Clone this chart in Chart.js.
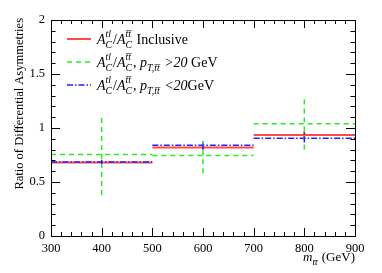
<!DOCTYPE html>
<html>
<head>
<meta charset="utf-8">
<script src="https://cdn.jsdelivr.net/npm/chart.js@4/dist/chart.umd.min.js"></script>
<style>
  html, body { margin: 0; padding: 0; background: #fff; }
  #wrap { width: 382px; height: 273px; }
</style>
</head>
<body>
<div id="wrap"><canvas id="asymChart" width="382" height="273"></canvas></div>
<script>
// bins in m_tt (GeV)
const binEdges = [300, 500, 700, 900];
const binCenters = [400, 600, 800];

// ratio values per bin
const inclusive = [0.68, 0.82, 0.935];
const inclusiveLo = [0.67, 0.80, 0.90];
const inclusiveHi = [0.69, 0.84, 0.97];

const highPt = [0.755, 0.745, 1.04];
const highPtLo = [0.38, 0.58, 0.80];
const highPtHi = [1.11, 0.88, 1.27];

const lowPt = [0.685, 0.84, 0.905];
const lowPtLo = [0.665, 0.80, 0.865];
const lowPtHi = [0.705, 0.88, 0.955];

const xTicks = [300, 400, 500, 600, 700, 800, 900];
const yTicks = [0, 0.5, 1, 1.5, 2];

const SERIF = '"Liberation Serif", "DejaVu Serif", serif';

// turn bin values into horizontal segments
function steps(vals) {
  const pts = [];
  vals.forEach((v, i) => {
    pts.push({ x: binEdges[i], y: v });
    pts.push({ x: binEdges[i + 1], y: v });
    pts.push({ x: binEdges[i + 1], y: null });
  });
  return pts;
}

const series = [
  { label: "inclusive", vals: inclusive, lo: inclusiveLo, hi: inclusiveHi, color: "#ff4848", width: 2, dash: [] },
  { label: "high", vals: highPt, lo: highPtLo, hi: highPtHi, color: "#22ee22", width: 1.5, dash: [5, 4] },
  { label: "low", vals: lowPt, lo: lowPtLo, hi: lowPtHi, color: "#2222ff", width: 1.5, dash: [6, 2, 1.5, 2] }
];

// draw a run of text pieces: {t, it, sub, sup}
function drawRich(ctx, x, y, pieces, size, measureOnly) {
  const x0 = x;
  pieces.forEach(p => {
    const fs = p.sub || p.sup ? size * 0.7 : size;
    ctx.font = (p.it ? "italic " : "") + fs + "px " + SERIF;
    if (p.t !== undefined) {
      if (!measureOnly) ctx.fillText(p.t, x, y);
      x += ctx.measureText(p.t).width;
    } else {
      let w = 0;
      if (p.sup) {
        if (!measureOnly) ctx.fillText(p.sup, x, y - size * 0.48);
        w = Math.max(w, ctx.measureText(p.sup).width);
      }
      if (p.sub) {
        if (!measureOnly) ctx.fillText(p.sub, x, y + size * 0.32);
        w = Math.max(w, ctx.measureText(p.sub).width);
      }
      x += w + 1;
    }
  });
  return x - x0;
}

const ratioPieces = [
  { t: "A", it: true }, { sub: "C", sup: "tl", it: true },
  { t: "/", it: false },
  { t: "A", it: true }, { sub: "C", sup: "t\u0304t\u0304", it: true }
];

const legendRows = [
  ratioPieces.concat([{ t: " Inclusive" }]),
  ratioPieces.concat([{ t: ", " }, { t: "p", it: true }, { sub: "T,t\u0304t\u0304", it: true }, { t: " >20", it: true }, { t: " GeV" }]),
  ratioPieces.concat([{ t: ", " }, { t: "p", it: true }, { sub: "T,t\u0304t\u0304", it: true }, { t: " <20", it: true }, { t: "GeV" }])
];

const decorPlugin = {
  id: "decor",
  afterDatasetsDraw(chart) {
    const ctx = chart.ctx;
    const xs = chart.scales.x, ys = chart.scales.y;
    const a = chart.chartArea;
    ctx.save();

    // error bars at bin centers
    series.forEach(s => {
      ctx.strokeStyle = s.color;
      ctx.lineWidth = s.width;
      ctx.setLineDash(s.dash);
      binCenters.forEach((c, i) => {
        const px = xs.getPixelForValue(c);
        ctx.beginPath();
        ctx.moveTo(px, ys.getPixelForValue(s.lo[i]));
        ctx.lineTo(px, ys.getPixelForValue(s.hi[i]));
        ctx.stroke();
      });
    });
    ctx.setLineDash([]);

    // frame
    ctx.strokeStyle = "#000";
    ctx.lineWidth = 1;
    ctx.strokeRect(a.left + 0.5, a.top + 0.5, a.right - a.left, a.bottom - a.top);

    // inner ticks
    ctx.beginPath();
    for (let v = 300; v <= 900; v += 20) {
      const px = Math.round(xs.getPixelForValue(v)) + 0.5;
      const len = v % 100 === 0 ? 8 : 4;
      ctx.moveTo(px, a.bottom); ctx.lineTo(px, a.bottom - len);
      ctx.moveTo(px, a.top); ctx.lineTo(px, a.top + len);
    }
    for (let k = 0; k <= 20; k++) {
      const py = Math.round(ys.getPixelForValue(k / 10)) + 0.5;
      const len = k % 5 === 0 ? 9 : 4.5;
      ctx.moveTo(a.left, py); ctx.lineTo(a.left + len, py);
      ctx.moveTo(a.right, py); ctx.lineTo(a.right - len, py);
    }
    ctx.stroke();

    // legend
    ctx.fillStyle = "#000";
    ctx.textBaseline = "alphabetic";
    ctx.textAlign = "left";
    const rowY = [39, 62, 85];
    legendRows.forEach((row, i) => {
      const s = series[i];
      ctx.strokeStyle = s.color;
      ctx.lineWidth = s.width;
      ctx.setLineDash(s.dash);
      ctx.beginPath();
      ctx.moveTo(67, rowY[i]);
      ctx.lineTo(91, rowY[i]);
      ctx.stroke();
      ctx.setLineDash([]);
      drawRich(ctx, 97, rowY[i] + 5, row, 14);
    });

    // y title
    ctx.save();
    ctx.translate(23, 18);
    ctx.rotate(-Math.PI / 2);
    ctx.textAlign = "right";
    ctx.font = "12.5px " + SERIF;
    ctx.fillText("Ratio of Differential Asymmetries", 0, 0);
    ctx.restore();

    // x title, right aligned to the frame
    const xt = [{ t: "m", it: true }, { sub: "t\u0304t\u0304", it: true }, { t: " (GeV)" }];
    const w = drawRich(ctx, 0, 0, xt, 13, true);
    drawRich(ctx, a.right - w, 261, xt, 13);

    ctx.restore();
  }
};

const ctx = document.getElementById("asymChart").getContext("2d");
new Chart(ctx, {
  type: "line",
  data: {
    datasets: series.map((s, i) => ({
      label: s.label,
      data: steps(s.vals),
      borderColor: s.color,
      borderWidth: s.width,
      borderDash: s.dash,
      pointRadius: 0,
      spanGaps: false,
      fill: false,
      order: i === 0 ? 3 : (i === 1 ? 1 : 2)
    }))
  },
  options: {
    responsive: false,
    animation: false,
    layout: { padding: { left: 0, top: 20, right: 27, bottom: 0 } },
    plugins: { legend: { display: false }, tooltip: { enabled: false } },
    scales: {
      x: {
        type: "linear",
        min: 300,
        max: 900,
        afterBuildTicks: axis => { axis.ticks = xTicks.map(v => ({ value: v })); },
        afterFit: axis => { axis.height = 37; },
        grid: { display: false },
        border: { display: false },
        ticks: { color: "#000", font: { family: SERIF, size: 12.5 }, padding: -3, maxRotation: 0 }
      },
      y: {
        min: 0,
        max: 2,
        afterBuildTicks: axis => { axis.ticks = yTicks.map(v => ({ value: v })); },
        afterFit: axis => { axis.width = 51; },
        grid: { display: false },
        border: { display: false },
        ticks: {
          color: "#000",
          font: { family: SERIF, size: 12.5 },
          padding: -2,
          callback: v => String(v)
        }
      }
    }
  },
  plugins: [decorPlugin]
});
</script>
</body>
</html>
